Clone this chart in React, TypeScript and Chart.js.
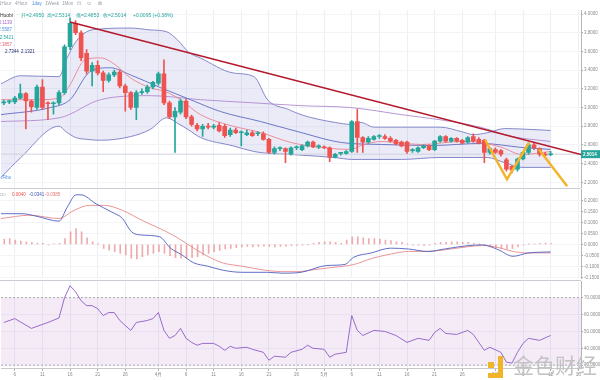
import React, { useEffect, useRef } from 'react';
import { Chart, registerables } from 'chart.js';

Chart.register(...registerables);

const FONT = '"Liberation Sans", Arial, sans-serif';
Chart.defaults.font.family = FONT;

// ---------- categories (daily) ----------
const monthNames = ['3月', '4月', '5月', '6月'];
const monthFirstDay = [4, 1, 1, 1];
const monthLastDay = [31, 30, 31, 16];
const tickDays = [6, 11, 16, 21, 26];

// ---------- OHLC ----------
const opens = [
  3.05, 3.06, 3.06, 3.10, 3.15, 3.07, 3.00, 3.22, 3.05, 3.04,
  3.05, 3.16, 3.65, 3.90, 3.80, 3.58, 3.39, 3.45, 3.37, 3.29,
  3.35, 3.38, 3.23, 3.16, 3.00, 3.16, 3.17, 3.22, 3.26, 3.36,
  3.05, 2.90, 2.95, 3.07, 2.90, 2.81, 2.77, 2.80, 2.79, 2.81,
  2.80, 2.71, 2.76, 2.73, 2.71, 2.73, 2.72, 2.72, 2.66, 2.52,
  2.56, 2.56, 2.50, 2.57, 2.55, 2.59, 2.63, 2.58, 2.58, 2.57,
  2.47, 2.51, 2.51, 2.53, 2.85, 2.68, 2.63, 2.66, 2.69, 2.69,
  2.67, 2.65, 2.63, 2.63, 2.54, 2.53, 2.57, 2.59, 2.55, 2.64,
  2.69, 2.64, 2.67, 2.65, 2.63, 2.69, 2.66, 2.65, 2.52, 2.55,
  2.54, 2.44, 2.37, 2.34, 2.45, 2.52, 2.60, 2.56, 2.50, 2.495,
];
const highs = [
  3.08, 3.08, 3.12, 3.25, 3.16, 3.08, 3.24, 3.30, 3.06, 3.06,
  3.18, 3.67, 3.96, 3.93, 3.82, 3.62, 3.48, 3.50, 3.39, 3.37,
  3.40, 3.40, 3.25, 3.17, 3.18, 3.20, 3.24, 3.28, 3.38, 3.51,
  3.07, 3.00, 3.09, 3.09, 2.92, 2.83, 2.82, 2.83, 2.82, 2.84,
  2.82, 2.78, 2.78, 2.75, 2.76, 2.75, 2.74, 2.74, 2.67, 2.58,
  2.58, 2.57, 2.58, 2.59, 2.60, 2.64, 2.64, 2.60, 2.59, 2.58,
  2.51, 2.52, 2.54, 2.86, 2.98, 2.69, 2.69, 2.70, 2.71, 2.71,
  2.69, 2.66, 2.64, 2.64, 2.56, 2.58, 2.60, 2.60, 2.65, 2.70,
  2.70, 2.68, 2.68, 2.66, 2.69, 2.72, 2.68, 2.66, 2.57, 2.57,
  2.55, 2.46, 2.38, 2.46, 2.53, 2.62, 2.62, 2.57, 2.52, 2.5314,
];
const lows = [
  3.03, 3.04, 3.04, 3.09, 2.77, 2.95, 2.98, 2.98, 2.87, 2.93,
  3.03, 3.14, 3.62, 3.78, 3.50, 3.36, 3.23, 3.35, 3.17, 3.27,
  3.33, 3.21, 2.96, 2.98, 2.87, 3.14, 3.15, 3.20, 3.24, 3.03,
  2.88, 2.52, 2.93, 2.88, 2.80, 2.75, 2.69, 2.77, 2.77, 2.74,
  2.68, 2.69, 2.72, 2.59, 2.70, 2.69, 2.70, 2.65, 2.51, 2.50,
  2.54, 2.41, 2.49, 2.55, 2.54, 2.58, 2.57, 2.56, 2.56, 2.42,
  2.46, 2.49, 2.50, 2.52, 2.52, 2.52, 2.62, 2.65, 2.67, 2.66,
  2.63, 2.60, 2.58, 2.51, 2.52, 2.52, 2.56, 2.54, 2.54, 2.63,
  2.63, 2.63, 2.63, 2.61, 2.62, 2.63, 2.61, 2.41, 2.50, 2.51,
  2.48, 2.32, 2.30, 2.32, 2.44, 2.50, 2.55, 2.48, 2.48, 2.4853,
];
const closes = [
  3.06, 3.06, 3.10, 3.15, 3.07, 3.01, 3.22, 3.00, 3.04, 3.04,
  3.16, 3.65, 3.90, 3.80, 3.53, 3.39, 3.45, 3.37, 3.29, 3.35,
  3.38, 3.23, 3.16, 3.00, 3.16, 3.17, 3.22, 3.27, 3.36, 3.05,
  2.90, 2.96, 3.07, 2.90, 2.82, 2.77, 2.80, 2.79, 2.80, 2.75,
  2.70, 2.76, 2.73, 2.73, 2.73, 2.70, 2.72, 2.66, 2.52, 2.56,
  2.56, 2.53, 2.57, 2.57, 2.59, 2.63, 2.58, 2.58, 2.57, 2.47,
  2.50, 2.51, 2.53, 2.85, 2.68, 2.63, 2.67, 2.69, 2.69, 2.67,
  2.64, 2.61, 2.59, 2.53, 2.54, 2.57, 2.59, 2.55, 2.64, 2.69,
  2.64, 2.67, 2.64, 2.62, 2.68, 2.64, 2.62, 2.52, 2.56, 2.52,
  2.50, 2.34, 2.33, 2.45, 2.52, 2.60, 2.57, 2.50, 2.4919, 2.5014,
];

// ---------- Bollinger bands & moving averages (read at sampled days) ----------
const bbIdx = [-0.5, 3, 10, 11.3, 13, 15, 17.5, 23, 26.5, 29.5, 31.5, 33.5, 35.6, 41.5, 45.3, 47.8, 51.5, 54, 60, 63, 64.7, 67, 72, 79, 83, 85, 87.5, 90.7, 93.8, 99];
const bbUpper = [3.255, 3.34, 3.33, 3.51, 3.70, 3.81, 3.84, 3.85, 3.83, 3.81, 3.72, 3.59, 3.53, 3.37, 3.33, 3.08, 2.98, 2.92, 2.84, 2.82, 2.84, 2.79, 2.79, 2.79, 2.74, 2.71, 2.73, 2.775, 2.77, 2.755];
const bbLower = [2.253, 2.46, 2.80, 2.74, 2.68, 2.66, 2.65, 2.69, 2.765, 2.89, 2.83, 2.76, 2.68, 2.59, 2.53, 2.51, 2.50, 2.49, 2.465, 2.445, 2.445, 2.445, 2.445, 2.466, 2.466, 2.466, 2.466, 2.41, 2.36, 2.36];

const pinkIdx = [-0.5, 6.5, 10.2, 12, 14.7, 17.5, 20.2, 22.9, 26.5, 29.3, 32, 35.6, 41.1, 46.5, 52, 57.5, 62.9, 64.7, 68.4, 75.6, 82.9, 86.5, 90.2, 93.8, 99];
const pinkVal = [3.084, 3.084, 3.105, 3.244, 3.51, 3.531, 3.457, 3.318, 3.212, 3.169, 3.084, 2.924, 2.807, 2.733, 2.626, 2.573, 2.552, 2.594, 2.637, 2.605, 2.637, 2.626, 2.573, 2.498, 2.53];
const blueIdx = [-0.5, 8.4, 12, 15.6, 19.3, 22.9, 28.4, 33.8, 39.3, 46.5, 53.8, 61.1, 68.4, 77.5, 86.5, 93.8, 99];
const blueVal = [2.924, 2.999, 3.084, 3.382, 3.425, 3.35, 3.212, 3.084, 2.956, 2.85, 2.733, 2.626, 2.605, 2.594, 2.616, 2.573, 2.552];
const purpleIdx = [-0.5, 10.2, 17.5, 26.5, 35.6, 44.7, 53.8, 62.9, 72, 81.1, 86.5, 92, 99];
const purpleVal = [2.85, 2.892, 3.084, 3.127, 3.084, 3.052, 3.02, 2.999, 2.924, 2.85, 2.786, 2.69, 2.637];

// ---------- hand-drawn lines ----------
const trendIdx = [12, 104.5];
const trendVal = [3.915, 2.498];
const zigIdx = [87.1, 91.1, 95.1];
const zigVal = [2.658, 2.232, 2.626];
const arrowIdx = [96.9, 102];
const arrowVal = [2.552, 2.158];

// ---------- MACD ----------
const macdIdx = [-0.5, 3.3, 6.0, 10.0, 11.5, 13.1, 14.0, 16.7, 19.5, 21.5, 23.1, 24.9, 28.2, 30.2, 32.2, 34.4, 36.9, 39.6, 43.1, 47.8, 50.4, 53.8, 58.5, 61.8, 63.3, 66.5, 70.0, 73.3, 76.7, 80.0, 84.2, 86.7, 89.5, 92.2, 94.9, 99];
const macdVal = [0.140, 0.140, 0.128, 0.106, 0.170, 0.226, 0.226, 0.185, 0.148, 0.118, 0.058, 0.043, 0.035, -0.017, -0.047, -0.084, -0.099, -0.117, -0.127, -0.127, -0.131, -0.127, -0.096, -0.091, -0.059, -0.039, -0.017, -0.021, -0.032, -0.020, -0.005, -0.002, -0.024, -0.054, -0.039, -0.0341];
const signalIdx = [-0.5, 4.7, 10.0, 12.7, 15.5, 18.2, 21.5, 25.0, 27.6, 28.9, 31.6, 34.4, 36.9, 39.6, 43.1, 46.4, 50.4, 53.1, 56.5, 59.8, 63.3, 66.5, 70.0, 73.3, 76.7, 80.0, 84.2, 86.7, 89.5, 92.2, 94.9, 99];
const signalVal = [0.118, 0.133, 0.118, 0.155, 0.178, 0.178, 0.155, 0.110, 0.080, 0.065, 0.028, -0.017, -0.054, -0.084, -0.099, -0.114, -0.124, -0.124, -0.114, -0.104, -0.092, -0.065, -0.044, -0.032, -0.032, -0.024, -0.010, -0.005, -0.014, -0.032, -0.039, -0.0385];
const macdHist = [
  0.024, 0.027, 0.020, 0.015, 0.012, 0.009, 0.005, 0.005, -0.002, 0.003,
  0.005, 0.027, 0.057, 0.072, 0.057, 0.030, 0.012, 0.001, -0.018, -0.026,
  -0.033, -0.041, -0.048, -0.063, -0.066, -0.056, -0.048, -0.041, -0.033, -0.041,
  -0.051, -0.060, -0.063, -0.063, -0.060, -0.056, -0.048, -0.041, -0.033, -0.027,
  -0.021, -0.018, -0.015, -0.011, -0.009, -0.011, -0.009, -0.008, -0.009, -0.011,
  -0.009, -0.008, -0.006, -0.005, -0.003, -0.001, 0.005, 0.009, 0.012, 0.012,
  0.009, 0.005, 0.020, 0.035, 0.035, 0.030, 0.027, 0.027, 0.024, 0.020,
  0.017, 0.012, 0.009, 0.001, -0.003, -0.003, -0.006, -0.003, 0.005, 0.009,
  0.009, 0.012, 0.012, 0.009, 0.009, 0.005, 0.001, -0.006, -0.011, -0.015,
  -0.018, -0.021, -0.018, -0.011, -0.003, 0.001, 0.003, 0.005, 0.006, 0.004,
];

// ---------- RSI ----------
const rsiIdx = [0, 2, 5, 8, 10, 11, 12, 13, 14, 15, 16, 17, 18, 19, 20, 21, 22, 23, 24, 26, 27, 28, 29, 30, 31, 32, 33, 34, 35, 36, 38, 39, 40, 41, 42, 44, 45, 47, 48, 49, 51, 52, 54, 55, 56, 58, 59, 60, 62, 63, 64, 65, 67, 69, 71, 73, 75, 77, 78, 79, 80, 82, 84, 85, 87, 88, 90, 91, 92, 93, 94, 95, 97, 99];
const rsiVal = [55.3, 57.6, 51.8, 55.3, 58.0, 70.0, 77.1, 73.5, 68.2, 65.3, 65.3, 63.5, 59.4, 61.2, 61.2, 56.5, 53.5, 50.6, 55.3, 56.5, 57.6, 61.2, 50.6, 45.9, 47.6, 51.8, 45.9, 43.5, 41.8, 42.9, 42.9, 41.2, 38.8, 41.2, 40.0, 40.6, 39.4, 37.6, 32.9, 35.3, 34.7, 37.6, 39.4, 41.8, 40.0, 39.4, 34.7, 36.5, 37.6, 59.4, 50.6, 47.6, 50.6, 50.0, 47.6, 43.5, 45.9, 44.7, 49.4, 51.8, 48.8, 48.2, 50.6, 48.2, 38.8, 40.6, 37.6, 31.8, 31.2, 37.6, 42.9, 45.9, 44.7, 47.6];
const rsiLevels = [70, 30];

// ---------- indicator legend values ----------
const maLegendValues = ['3.1139', '2.5587', '2.5421', '2.3857'];
const bbLegendValues = ['2.7344', '2.1321'];

// ================= derived tables =================
const dayLabels: string[] = [];
const tickText: string[] = [];
monthNames.forEach((m, k) => {
  for (let d = monthFirstDay[k]; d <= monthLastDay[k]; d++) {
    dayLabels.push(`${m}${d}日`);
    tickText.push(d === 1 ? m : tickDays.includes(d) ? String(d) : '');
  }
});

const GREEN = '#26a69a';
const RED = '#ef5350';

const sparse = (xs: number[], ys: number[]) => xs.map((x, i) => ({ x, y: ys[i] }));
const candleColors = closes.map((c, i) => (c >= opens[i] ? GREEN : RED));

const lineDs = (data: any[], extra: any) => ({
  type: 'line',
  data,
  xAxisID: 'xl',
  yAxisID: 'y',
  pointRadius: 0,
  borderWidth: 1,
  fill: false,
  tension: 0,
  ...extra,
});

const gridColor = (c: any) => (tickText[c.index] ? '#eceff5' : 'rgba(0,0,0,0)');

const hiddenX = () => ({
  type: 'category',
  offset: true,
  grid: { offset: false, color: gridColor, drawTicks: false },
  border: { display: false },
  ticks: { display: false },
  afterFit: (s: any) => {
    s.height = 0;
  },
});

const yAxis = (min: number, max: number, step: number) => ({
  position: 'right',
  min,
  max,
  ticks: {
    stepSize: step,
    includeBounds: false,
    callback: (v: any) => Number(v).toFixed(4),
    font: { size: 4.5 },
    color: '#8a8a8a',
    padding: 1,
  },
  grid: { color: '#f3f4f8', tickLength: 2, tickColor: '#aaaaaa' },
  border: { color: '#b5b5b5' },
  afterFit: (s: any) => {
    s.width = 19;
  },
});

type TextItem = { t: string; x: number; y: number; c: string; s?: number; a?: CanvasTextAlign; b?: boolean };
const textPlugin = (id: string, items: TextItem[]) => ({
  id,
  afterDraw(chart: any) {
    const ctx = chart.ctx;
    ctx.save();
    ctx.textBaseline = 'middle';
    items.forEach((it) => {
      ctx.font = `${it.b ? 'bold ' : ''}${it.s ?? 5}px ${FONT}`;
      ctx.fillStyle = it.c;
      ctx.textAlign = it.a ?? 'left';
      ctx.fillText(it.t, it.x, it.y);
    });
    ctx.restore();
  },
});

const n = closes.length - 1;
const change = closes[n] - closes[n - 1];
const headerTexts: TextItem[] = [
  { t: '1Hour', x: -1, y: 3.5, c: '#9aa0a6', s: 4.5 },
  { t: '4Hour', x: 15, y: 3.5, c: '#9aa0a6', s: 4.5 },
  { t: '1day', x: 32, y: 3.5, c: '#4a90e2', s: 4.5 },
  { t: '1Week', x: 45, y: 3.5, c: '#9aa0a6', s: 4.5 },
  { t: '1Mon', x: 62, y: 3.5, c: '#9aa0a6', s: 4.5 },
  { t: '⊡', x: 77, y: 3.5, c: '#9aa0a6', s: 5 },
  { t: '⊙', x: 87, y: 3.5, c: '#9aa0a6', s: 5 },
  { t: '⊠', x: 98, y: 3.5, c: '#9aa0a6', s: 5 },
  { t: 'HT/USDT, 1D, Huobi', x: 13, y: 16, c: '#333333', s: 5, a: 'right' },
  { t: `开=${opens[n].toFixed(4)}`, x: 21, y: 16, c: GREEN },
  { t: `高=${highs[n].toFixed(4)}`, x: 47, y: 16, c: GREEN },
  { t: `低=${lows[n].toFixed(4)}`, x: 76, y: 16, c: GREEN },
  { t: `收=${closes[n].toFixed(4)}`, x: 103, y: 16, c: GREEN },
  { t: `+${change.toFixed(4)} (+${((change / closes[n - 1]) * 100).toFixed(2)}%)`, x: 133, y: 16, c: GREEN },
  { t: maLegendValues[0], x: 12, y: 22.7, c: '#a064c8', s: 4.5, a: 'right' },
  { t: maLegendValues[1], x: 12, y: 30, c: '#4f8fd6', s: 4.5, a: 'right' },
  { t: maLegendValues[2], x: 13.5, y: 37.3, c: GREEN, s: 4.5, a: 'right' },
  { t: maLegendValues[3], x: 12, y: 44.3, c: '#e06070', s: 4.5, a: 'right' },
  { t: bbLegendValues[0], x: 5, y: 51.7, c: '#1f2a6b', s: 4.5 },
  { t: bbLegendValues[1], x: 21, y: 51.7, c: '#1f2a6b', s: 4.5 },
  { t: '√Fibo', x: 0, y: 178, c: '#4a90e2', s: 4.5 },
];
const macdTexts: TextItem[] = [
  { t: '□□', x: 0, y: 9, c: '#999999', s: 4.5 },
  { t: macdHist[macdHist.length - 1].toFixed(4), x: 12, y: 9, c: RED, s: 4.5 },
  { t: macdVal[macdVal.length - 1].toFixed(4), x: 29, y: 9, c: '#3f51b5', s: 4.5 },
  { t: signalVal[signalVal.length - 1].toFixed(4), x: 45, y: 9, c: '#e57373', s: 4.5 },
];

const lastPricePlugin = {
  id: 'lastPrice',
  afterDraw(chart: any) {
    const ctx = chart.ctx;
    const y = chart.scales.y.getPixelForValue(closes[n]);
    const x = chart.chartArea.right;
    ctx.save();
    ctx.fillStyle = GREEN;
    ctx.fillRect(x, y - 4, 19, 8);
    ctx.fillStyle = '#ffffff';
    ctx.font = `bold 4.5px ${FONT}`;
    ctx.textBaseline = 'middle';
    ctx.textAlign = 'left';
    ctx.fillText(closes[n].toFixed(4), x + 2, y + 0.3);
    ctx.restore();
  },
};

const common = {
  responsive: false,
  animation: false,
  devicePixelRatio: 1,
  events: [],
  plugins: { legend: { display: false }, tooltip: { enabled: false } },
};

export default function App() {
  const mainRef = useRef<HTMLCanvasElement>(null);
  const macdRef = useRef<HTMLCanvasElement>(null);
  const rsiRef = useRef<HTMLCanvasElement>(null);

  useEffect(() => {
    const charts: Chart[] = [];
    const xlAxis = { type: 'linear', position: 'bottom', min: -0.5, max: dayLabels.length - 0.5, display: false, offset: false };
    const flat = (v: number) => [
      { x: -0.5, y: v },
      { x: dayLabels.length - 0.5, y: v },
    ];

    charts.push(
      new Chart(mainRef.current as HTMLCanvasElement, {
        type: 'bar',
        data: {
          labels: dayLabels,
          datasets: [
            lineDs(sparse(zigIdx, zigVal), { borderColor: '#f4b42a', borderWidth: 2.5, order: 0, clip: false }),
            lineDs(sparse(arrowIdx, arrowVal), { borderColor: '#f4b42a', borderWidth: 2.5, order: 0, clip: false }),
            lineDs(sparse(trendIdx, trendVal), { borderColor: '#b3192b', borderWidth: 1.5, order: 1 }),
            {
              type: 'bar',
              data: opens.map((o, i) => [o, closes[i]]),
              backgroundColor: candleColors,
              barThickness: 4,
              minBarLength: 1,
              grouped: false,
              xAxisID: 'x',
              yAxisID: 'y',
              order: 2,
            },
            {
              type: 'bar',
              data: lows.map((l, i) => [l, highs[i]]),
              backgroundColor: candleColors,
              barThickness: 1,
              grouped: false,
              xAxisID: 'x',
              yAxisID: 'y',
              order: 3,
            },
            lineDs(sparse(pinkIdx, pinkVal), { borderColor: '#e8848f', borderWidth: 0.9, cubicInterpolationMode: 'monotone', order: 4 }),
            lineDs(sparse(blueIdx, blueVal), { borderColor: '#5c6bc0', borderWidth: 0.9, cubicInterpolationMode: 'monotone', order: 5 }),
            lineDs(sparse(purpleIdx, purpleVal), { borderColor: '#b08ad0', borderWidth: 0.9, cubicInterpolationMode: 'monotone', order: 6 }),
            lineDs(flat(closes[n]), { borderColor: '#cfd3dc', borderWidth: 1, order: 7 }),
            lineDs(sparse(bbIdx, bbUpper), {
              borderColor: '#8589c9',
              borderWidth: 1,
              cubicInterpolationMode: 'monotone',
              fill: '+1',
              backgroundColor: 'rgba(120,123,210,0.15)',
              order: 8,
            }),
            lineDs(sparse(bbIdx, bbLower), { borderColor: '#8589c9', borderWidth: 1, cubicInterpolationMode: 'monotone', order: 9 }),
          ] as any,
        },
        options: {
          ...common,
          layout: { padding: { top: 10, bottom: 3, left: 1, right: 0 } },
          scales: {
            x: hiddenX(),
            xl: xlAxis,
            y: yAxis(2.147, 4.043, 0.2),
          },
        } as any,
        plugins: [textPlugin('hdr', headerTexts), lastPricePlugin],
      })
    );

    charts.push(
      new Chart(macdRef.current as HTMLCanvasElement, {
        type: 'bar',
        data: {
          labels: dayLabels,
          datasets: [
            lineDs(sparse(macdIdx, macdVal), { borderColor: '#4f5fbf', borderWidth: 0.9, cubicInterpolationMode: 'monotone', order: 0 }),
            lineDs(sparse(signalIdx, signalVal), { borderColor: '#e88a8a', borderWidth: 0.9, cubicInterpolationMode: 'monotone', order: 1 }),
            {
              type: 'bar',
              data: macdHist,
              backgroundColor: 'rgba(229,115,115,0.6)',
              barThickness: 1,
              xAxisID: 'x',
              yAxisID: 'y',
              order: 2,
            },
          ] as any,
        },
        options: {
          ...common,
          layout: { padding: { top: 3, bottom: 3, left: 1, right: 0 } },
          scales: {
            x: hiddenX(),
            xl: xlAxis,
            y: yAxis(-0.1543, 0.2493, 0.05),
          },
        } as any,
        plugins: [textPlugin('macdTxt', macdTexts)],
      })
    );

    charts.push(
      new Chart(rsiRef.current as HTMLCanvasElement, {
        type: 'line',
        data: {
          labels: dayLabels,
          datasets: [
            lineDs(sparse(rsiIdx, rsiVal), { borderColor: '#8e5cc4', borderWidth: 0.9, order: 0 }),
            lineDs(flat(rsiLevels[0]), {
              borderColor: '#9a9a9a',
              borderWidth: 0.8,
              borderDash: [2, 2],
              fill: '+1',
              backgroundColor: 'rgba(180,120,200,0.15)',
              order: 1,
            }),
            lineDs(flat(rsiLevels[1]), { borderColor: '#9a9a9a', borderWidth: 0.8, borderDash: [2, 2], order: 2 }),
          ] as any,
        },
        options: {
          ...common,
          layout: { padding: { top: 3, bottom: 0, left: 1, right: 0 } },
          scales: {
            x: {
              type: 'category',
              offset: true,
              grid: {
                offset: false,
                color: gridColor,
                tickColor: (c: any) => (tickText[c.index] ? '#b0b0b0' : 'rgba(0,0,0,0)'),
                tickLength: 3,
              },
              border: { display: true, color: '#c8c8c8' },
              ticks: {
                autoSkip: false,
                maxRotation: 0,
                minRotation: 0,
                padding: 1,
                font: { size: 4.5 },
                color: '#8a8a8a',
                callback: (_v: any, i: number) => tickText[i],
              },
              afterFit: (s: any) => {
                s.height = 12;
              },
            },
            xl: xlAxis,
            y: yAxis(28.3, 79.5, 10),
          },
        } as any,
      })
    );

    return () => charts.forEach((c) => c.destroy());
  }, []);

  return (
    <div
      style={{
        position: 'absolute',
        left: 0,
        top: 0,
        width: 600,
        height: 380,
        background: '#ffffff',
        overflow: 'hidden',
      }}
    >
      <canvas ref={mainRef} width={600} height={191} style={{ position: 'absolute', left: 0, top: 0 }} />
      <canvas ref={macdRef} width={600} height={96} style={{ position: 'absolute', left: 0, top: 186 }} />
      <canvas ref={rsiRef} width={600} height={102} style={{ position: 'absolute', left: 0, top: 278 }} />
      <div style={{ position: 'absolute', left: 0, top: 188, width: 581, height: 1, background: '#c9ccd3' }} />
      <div style={{ position: 'absolute', left: 0, top: 280, width: 581, height: 1, background: '#c9ccd3' }} />
      <div style={{ position: 'absolute', left: 488, top: 362, width: 6, height: 6, background: '#f0b429' }} />
      <div style={{ position: 'absolute', left: 498, top: 356, width: 5, height: 22, background: '#f0b429' }} />
      <div style={{ position: 'absolute', left: 488, top: 373, width: 15, height: 5, background: '#f0b429' }} />
      <div
        style={{
          position: 'absolute',
          left: 513,
          top: 350,
          fontSize: 21,
          lineHeight: '28px',
          color: '#c2c2c2',
          fontFamily: '"Noto Sans CJK SC", sans-serif',
          whiteSpace: 'nowrap',
        }}
      >
        金色财经
      </div>
    </div>
  );
}
